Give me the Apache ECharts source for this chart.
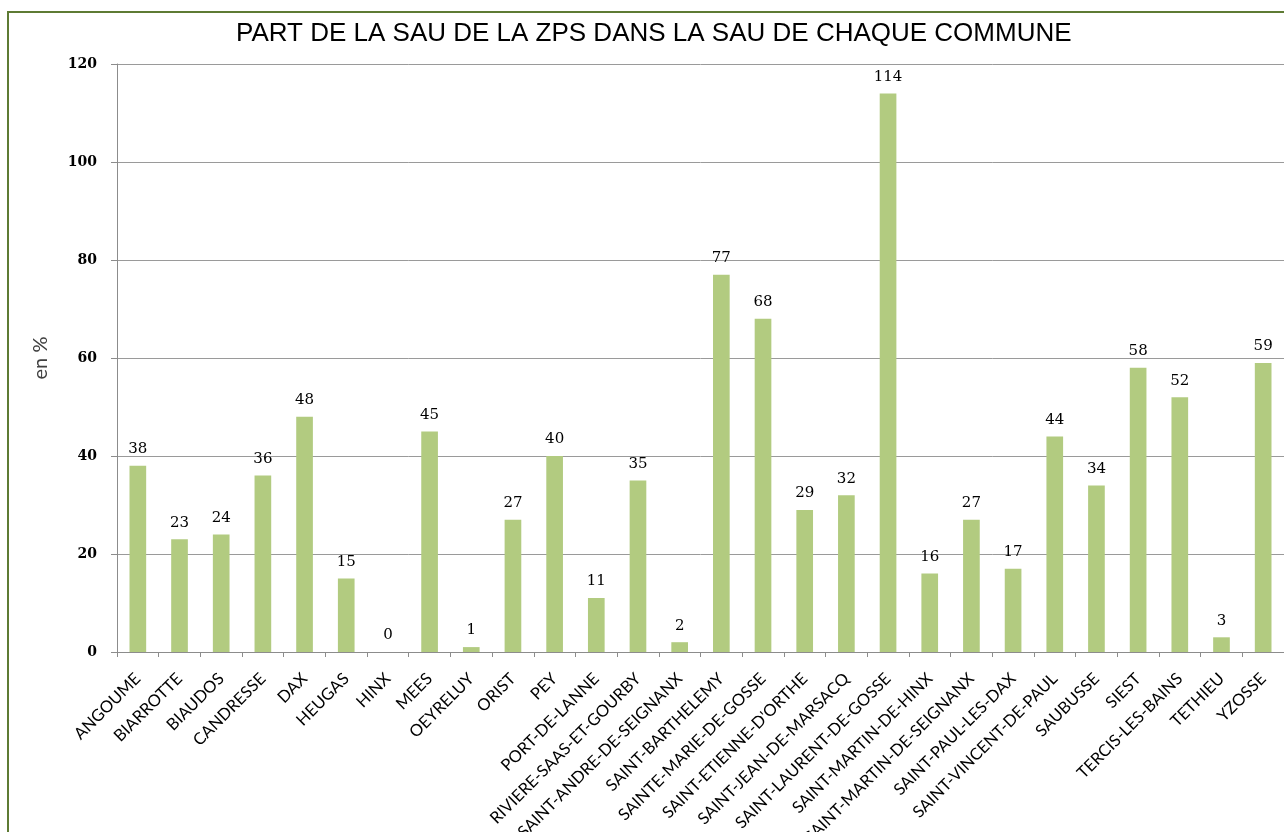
<!DOCTYPE html>
<html>
<head>
<meta charset="utf-8">
<script src="https://cdn.jsdelivr.net/npm/echarts@6/dist/echarts.min.js"></script>
<style>
  html, body { margin: 0; padding: 0; background: #fff; }
  #main { width: 1284px; height: 832px; }
</style>
</head>
<body>
<div id="main"></div>
<script>
// communes et part de la SAU (%)
const communes = [
  'ANGOUME', 'BIARROTTE', 'BIAUDOS', 'CANDRESSE', 'DAX', 'HEUGAS', 'HINX', 'MEES',
  'OEYRELUY', 'ORIST', 'PEY', 'PORT-DE-LANNE', 'RIVIERE-SAAS-ET-GOURBY',
  'SAINT-ANDRE-DE-SEIGNANX', 'SAINT-BARTHELEMY', 'SAINTE-MARIE-DE-GOSSE',
  "SAINT-ETIENNE-D'ORTHE", 'SAINT-JEAN-DE-MARSACQ', 'SAINT-LAURENT-DE-GOSSE',
  'SAINT-MARTIN-DE-HINX', 'SAINT-MARTIN-DE-SEIGNANX', 'SAINT-PAUL-LES-DAX',
  'SAINT-VINCENT-DE-PAUL', 'SAUBUSSE', 'SIEST', 'TERCIS-LES-BAINS', 'TETHIEU', 'YZOSSE'
]
const partSau = [
  38, 23, 24, 36, 48, 15, 0, 45,
  1, 27, 40, 11, 35,
  2, 77, 68,
  29, 32, 114,
  16, 27, 17,
  44, 34, 58, 52, 3, 59
]
const yTicks = [0, 20, 40, 60, 80, 100, 120]

const chart = echarts.init(document.getElementById('main'))
chart.setOption({
  animation: false,
  backgroundColor: '#fff',
  title: {
    text: 'PART DE LA SAU DE LA ZPS DANS LA SAU DE CHAQUE COMMUNE',
    left: 231,
    top: 16,
    textStyle: {
      fontFamily: 'Liberation Sans',
      fontSize: 26,
      fontWeight: 'normal',
      color: '#000',
    },
  },
  graphic: [
    {
      type: 'rect',
      silent: true,
      z: -1,
      shape: { x: 8, y: 12, width: 1400, height: 1000 },
      style: { fill: 'none', stroke: '#5e7b34', lineWidth: 2 },
    },
  ],
  grid: {
    left: 117,
    right: 0,
    top: 64,
    bottom: 180,
    containLabel: false,
    outerBoundsMode: 'none',
  },
  xAxis: {
    type: 'category',
    data: communes,
    axisLine: { lineStyle: { color: '#8c8c8c', width: 1 } },
    axisTick: { show: true, length: 5, lineStyle: { color: '#8c8c8c' } },
    axisLabel: {
      interval: 0,
      rotate: 45,
      margin: 24,
      fontFamily: 'Lato',
      fontSize: 16.5,
      color: '#000',
    },
  },
  yAxis: {
    type: 'value',
    min: yTicks[0],
    max: yTicks[yTicks.length - 1],
    interval: 20,
    name: 'en %',
    nameLocation: 'middle',
    nameGap: 66,
    nameTextStyle: {
      fontFamily: 'Lato',
      fontSize: 20,
      color: '#404040',
    },
    axisLine: { show: true, lineStyle: { color: '#8c8c8c' } },
    axisTick: { show: true, length: 6, lineStyle: { color: '#8c8c8c' } },
    axisLabel: {
      margin: 20,
      fontFamily: 'DejaVu Serif',
      fontWeight: 'bold',
      fontSize: 14,
      color: '#000',
    },
    splitLine: { lineStyle: { color: '#9a9a9a', width: 1 } },
  },
  series: [
    {
      type: 'bar',
      data: partSau,
      barWidth: '40%',
      itemStyle: { color: '#b2cb80' },
      label: {
        show: true,
        position: 'top',
        distance: 9,
        fontFamily: 'DejaVu Serif',
        fontSize: 15,
        color: '#000',
      },
    },
  ],
})
</script>
</body>
</html>
